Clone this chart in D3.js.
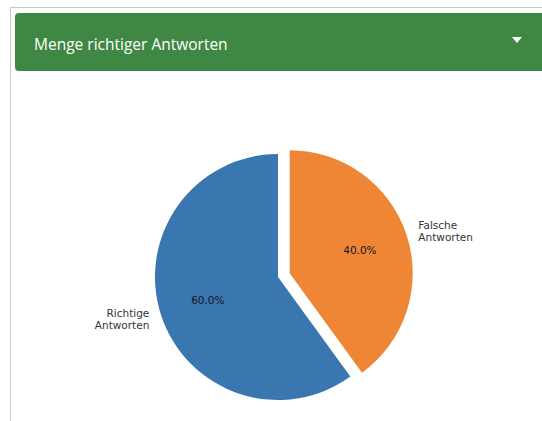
<!DOCTYPE html>
<html>
<head>
<meta charset="utf-8">
<script src="https://cdn.jsdelivr.net/npm/d3@7"></script>
<style>
  html, body { margin: 0; padding: 0; background: #fff; }
  svg { display: block; }
</style>
</head>
<body>
<div id="chart"></div>
<script>
// Chart data
const labels = ['Richtige\nAntworten', 'Falsche\nAntworten'];
const values = [60, 40];
const colors = ['#3a76b0', '#ef8636'];
const explode = [0, 0.1];
const title = 'Menge richtiger Antworten';

const width = 542, height = 421;
const svg = d3.select('#chart').append('svg')
    .attr('width', width)
    .attr('height', height);

// Card frame
svg.append('rect')
    .attr('x', 10.5).attr('y', 7.5)
    .attr('width', width).attr('height', height)
    .attr('fill', '#fff')
    .attr('stroke', '#c8c8c8');

// Header bar
svg.append('rect')
    .attr('x', 15).attr('y', 13)
    .attr('width', 540).attr('height', 58)
    .attr('rx', 4)
    .attr('fill', '#3f8844');

svg.append('text')
    .attr('x', 34).attr('y', 50)
    .attr('fill', '#fff')
    .attr('font-family', '"Open Sans", "Noto Sans", sans-serif')
    .attr('font-size', 15.5)
    .text(title);

// Dropdown triangle
svg.append('path')
    .attr('d', 'M512,37 L522,37 L517,43 Z')
    .attr('fill', '#fff');

// Pie (matplotlib style: startangle 90, counterclockwise)
const cx = 278, cy = 277, r = 123;
const total = d3.sum(values);
const angle = d3.scaleLinear().domain([0, total]).range([0, 2 * Math.PI]);

// d3 angles: 0 at top, clockwise. Counterclockwise from top => negative.
let acc = 0;
const slices = values.map((v, i) => {
    const s = { index: i, value: v, startAngle: -angle(acc + v), endAngle: -angle(acc) };
    acc += v;
    return s;
});

const arc = d3.arc().innerRadius(0).outerRadius(r);
const g = svg.append('g').attr('transform', `translate(${cx},${cy})`);

slices.forEach(s => {
    const mid = (s.startAngle + s.endAngle) / 2;
    const dx = explode[s.index] * r * Math.sin(mid);
    const dy = -explode[s.index] * r * Math.cos(mid);
    const sg = g.append('g').attr('transform', `translate(${dx},${dy})`);

    sg.append('path')
        .attr('d', arc(s))
        .attr('fill', colors[s.index]);

    // Percentage at 0.6 r
    sg.append('text')
        .attr('x', 0.6 * r * Math.sin(mid))
        .attr('y', -0.6 * r * Math.cos(mid))
        .attr('text-anchor', 'middle')
        .attr('dominant-baseline', 'central')
        .attr('font-family', '"DejaVu Sans", sans-serif')
        .attr('font-size', 10.5)
        .attr('fill', '#15152a')
        .text((s.value / total * 100).toFixed(1) + '%');

    // Label at 1.1 r
    const lx = 1.1 * r * Math.sin(mid);
    const ly = -1.1 * r * Math.cos(mid);
    const lines = labels[s.index].split('\n');
    const t = sg.append('text')
        .attr('text-anchor', lx < 0 ? 'end' : 'start')
        .attr('font-family', '"DejaVu Sans", sans-serif')
        .attr('font-size', 10.5)
        .attr('fill', '#333');
    lines.forEach((ln, k) => {
        t.append('tspan')
            .attr('x', lx)
            .attr('y', ly + (k - (lines.length - 1) / 2) * 12)
            .attr('dominant-baseline', 'central')
            .text(ln);
    });
});
</script>
</body>
</html>
